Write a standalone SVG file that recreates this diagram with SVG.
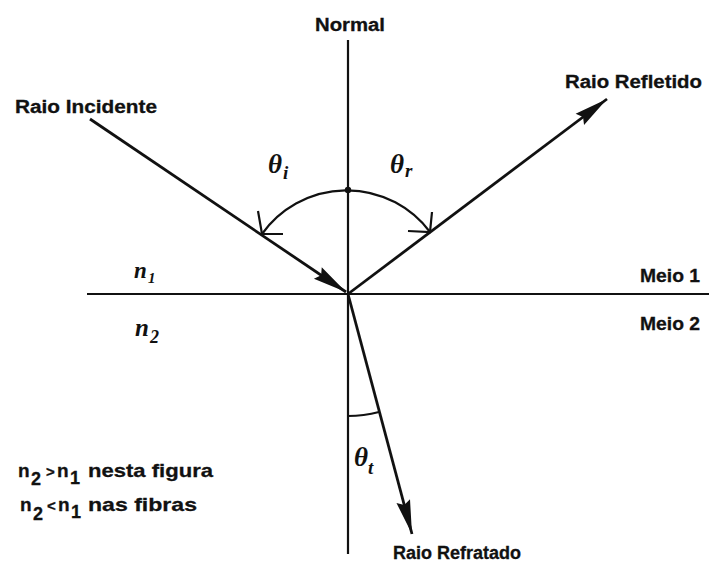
<svg xmlns="http://www.w3.org/2000/svg" width="709" height="564" viewBox="0 0 709 564">
<style>
.ln{stroke:#111;stroke-width:2.2;fill:none}
.ray{stroke:#111;stroke-width:2.8;fill:none}
.lbl{font-family:"Liberation Sans",Arial,sans-serif;font-weight:bold;font-size:18px;fill:#111;stroke:#111;stroke-width:0.3}
.sym{font-family:"Liberation Serif","Times New Roman",serif;font-style:italic;font-weight:bold;fill:#111}
.note{font-family:"Liberation Sans",Arial,sans-serif;font-weight:bold;font-size:19px;fill:#111;stroke:#111;stroke-width:0.3}
</style>
<defs>
<marker id="ah" markerUnits="userSpaceOnUse" markerWidth="40" markerHeight="20" refX="0" refY="0" orient="auto" viewBox="-36 -10 40 20" overflow="visible">
<path d="M0,0 L-34,-7 L-30,0 L-34,7 Z" fill="#111"/>
</marker>
</defs>
<rect width="709" height="564" fill="#fff"/>
<g id="connectors">
<line id="normal-line" class="ln" x1="348" y1="40" x2="348" y2="554"/>
<line id="interface" class="ln" x1="87" y1="294" x2="709" y2="294" stroke-width="2.6"/>
<line id="incident" class="ray" x1="90" y1="119" x2="346" y2="292" marker-end="url(#ah)"/>
<line id="reflected" class="ray" x1="348" y1="294" x2="607" y2="99" marker-end="url(#ah)"/>
<line id="refracted" class="ray" x1="348" y1="294" x2="412" y2="534" marker-end="url(#ah)"/>
<path id="arc-ir" class="ln" d="M262,234 A104,104 0 0 1 430,232" stroke-width="2.5"/>
<circle cx="348" cy="190" r="3.2" fill="#111"/>
<path class="ln" d="M258,211 L262,234 L283,234"/>
<path class="ln" d="M432,212 L430,232 L408,231"/>
<path id="arc-t" class="ln" d="M348,416 A122,122 0 0 0 379,412" stroke-width="2.6"/>
</g>
<g id="label-normal"><text class="lbl" x="315" y="31" textLength="70" lengthAdjust="spacingAndGlyphs">Normal</text></g>
<g id="label-incident"><text class="lbl" x="15" y="113" font-size="19" textLength="142" lengthAdjust="spacingAndGlyphs">Raio Incidente</text></g>
<g id="label-reflected"><text class="lbl" x="565" y="88" font-size="19" textLength="137" lengthAdjust="spacingAndGlyphs">Raio Refletido</text></g>
<g id="label-refracted"><text class="lbl" x="393" y="559" font-size="18" textLength="128" lengthAdjust="spacingAndGlyphs">Raio Refratado</text></g>
<g id="label-meio1"><text class="lbl" x="640" y="282" textLength="60" lengthAdjust="spacingAndGlyphs">Meio 1</text></g>
<g id="label-meio2"><text class="lbl" x="640" y="330" textLength="60" lengthAdjust="spacingAndGlyphs">Meio 2</text></g>
<g id="label-n1"><text class="sym" x="134" y="278" font-size="23">n</text><text class="sym" x="148" y="283" font-size="15" font-style="normal">1</text></g>
<g id="label-n2"><text class="sym" x="135" y="336" font-size="25">n</text><text class="sym" x="150" y="343" font-size="18" font-style="normal">2</text></g>
<g id="label-theta-i"><text class="sym" x="268" y="173" font-size="27">θ</text><text class="sym" x="283" y="179" font-size="19">i</text></g>
<g id="label-theta-r"><text class="sym" x="390" y="173" font-size="27">θ</text><text class="sym" x="405" y="177" font-size="19">r</text></g>
<g id="label-theta-t"><text class="sym" x="354" y="466" font-size="27">θ</text><text class="sym" x="368" y="474" font-size="19">t</text></g>
<g id="note">
<text class="note"><tspan x="18" y="477">n</tspan><tspan x="31" y="485" font-size="18">2</tspan><tspan x="46" y="477" font-size="15">&gt;</tspan><tspan x="57" y="477">n</tspan><tspan x="70" y="484" font-size="18">1</tspan><tspan x="88" y="477" textLength="125" lengthAdjust="spacingAndGlyphs">nesta figura</tspan></text>
<text class="note"><tspan x="20" y="511">n</tspan><tspan x="33" y="520" font-size="18">2</tspan><tspan x="47" y="511" font-size="15">&lt;</tspan><tspan x="58" y="511">n</tspan><tspan x="71" y="518" font-size="18">1</tspan><tspan x="88" y="511" textLength="109" lengthAdjust="spacingAndGlyphs">nas fibras</tspan></text>
</g>
</svg>
